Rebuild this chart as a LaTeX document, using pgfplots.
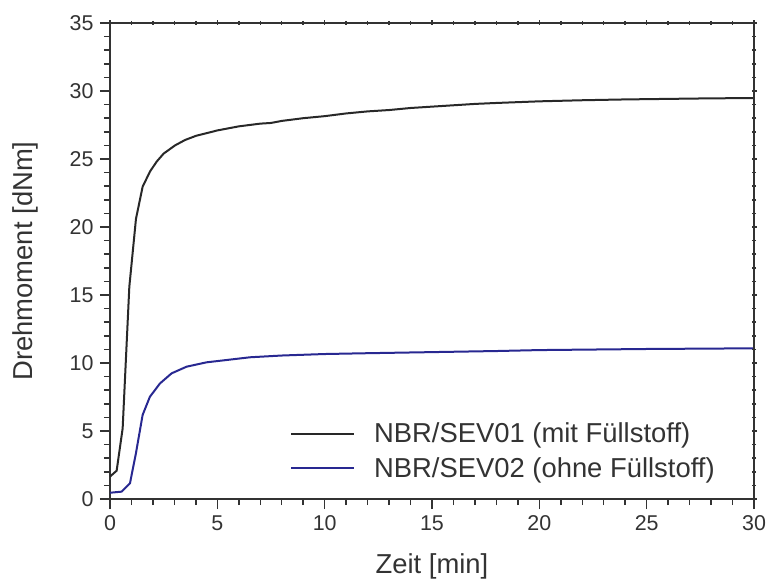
\documentclass[border=0pt]{standalone}
\usepackage{fontspec}
\setmainfont{Liberation Sans}
\usepackage{pgfplots}
\pgfplotsset{compat=1.18}
\definecolor{axgray}{RGB}{51,51,51}
\definecolor{curveblack}{RGB}{40,40,40}
\definecolor{curveblue}{RGB}{40,40,145}
\begin{document}
\begin{tikzpicture}
\begin{axis}[
  scale only axis,
  width=644bp, height=476bp,
  xmin=0, xmax=30, ymin=0, ymax=35,
  xtick={0,5,...,30}, ytick={0,5,...,35},
  minor x tick num=4, minor y tick num=4,
  tick pos=left,
  tick align=outside,
  major tick length=10bp, minor tick length=6bp,
  every tick/.style={axgray, line width=1.5bp},
  axis line style={axgray, line width=1.5bp},
  xticklabel={\pgfmathprintnumber[assume math mode=true]{\tick}},
  yticklabel={\pgfmathprintnumber[assume math mode=true]{\tick}},
  tick label style={axgray, font=\fontsize{21.5}{25}\selectfont},
  xticklabel style={yshift=-3bp},
  yticklabel style={xshift=-3bp},
  label style={axgray, font=\fontsize{27.5}{32}\selectfont},
  xlabel={Zeit [min]},
  ylabel={Drehmoment [dNm]},
  xlabel style={at={(axis description cs:0.5,-0.1555)}, anchor=base},
  ylabel style={at={(axis description cs:-0.1196,0.5)}, anchor=base},
  legend style={draw=none, fill=none, at={(axis cs:8.38,5.75)}, anchor=north west,
    font=\fontsize{27.5}{32}\selectfont, text=axgray, row sep=9bp, inner sep=0pt},
  legend cell align=left,
  legend image code/.code={\draw[#1] (0bp,0bp) -- (63bp,0bp); \path (80bp,0bp);},
]
\addplot[curveblack, line width=2bp] coordinates {
(0,1.65) (0.31,2.08) (0.59,5.2) (0.9,15.6) (1.21,20.6) (1.52,22.96) (1.86,24.07)
(2.17,24.8) (2.5,25.4) (3.03,26.0) (3.5,26.4) (4.0,26.7) (4.5,26.9) (5,27.1)
(5.5,27.25) (6,27.4) (6.5,27.5) (7,27.6) (7.5,27.65) (8,27.8) (8.5,27.9) (9,28.0)
(10,28.15) (11,28.35) (12,28.5) (13,28.6) (14,28.75) (15,28.85) (16,28.95) (17,29.05)
(18,29.12) (19,29.18) (20,29.24) (22,29.32) (24,29.38) (26,29.42) (28,29.46) (30,29.48)
};
\addlegendentry{NBR/SEV01 (mit Füllstoff)}
\addplot[curveblue, line width=2bp] coordinates {
(0,0.46) (0.54,0.54) (0.93,1.15) (1.21,3.38) (1.52,6.18) (1.86,7.52) (2.33,8.5)
(2.87,9.24) (3.57,9.73) (4.5,10.05) (5.43,10.22) (6.52,10.42) (8,10.55) (10,10.66)
(12,10.72) (15,10.8) (18,10.88) (20,10.95) (25,11.03) (30,11.08)
};
\addlegendentry{NBR/SEV02 (ohne Füllstoff)}
\end{axis}
\begin{axis}[
  scale only axis,
  width=644bp, height=476bp,
  xmin=0, xmax=30, ymin=0, ymax=35,
  axis x line*=top, axis y line*=right,
  xtick={0,5,...,30}, ytick={0,5,...,35},
  minor x tick num=4, minor y tick num=4,
  xticklabels={}, yticklabels={},
  tick align=center,
  major tick length=5bp, minor tick length=4bp,
  every tick/.style={axgray, line width=1.5bp},
  axis line style={axgray, line width=1.5bp, -},
]
\end{axis}
\pgfresetboundingbox
\path (current axis.south west) ++(-110bp,-81bp) rectangle ++(768bp,580bp);
\end{tikzpicture}
\end{document}
